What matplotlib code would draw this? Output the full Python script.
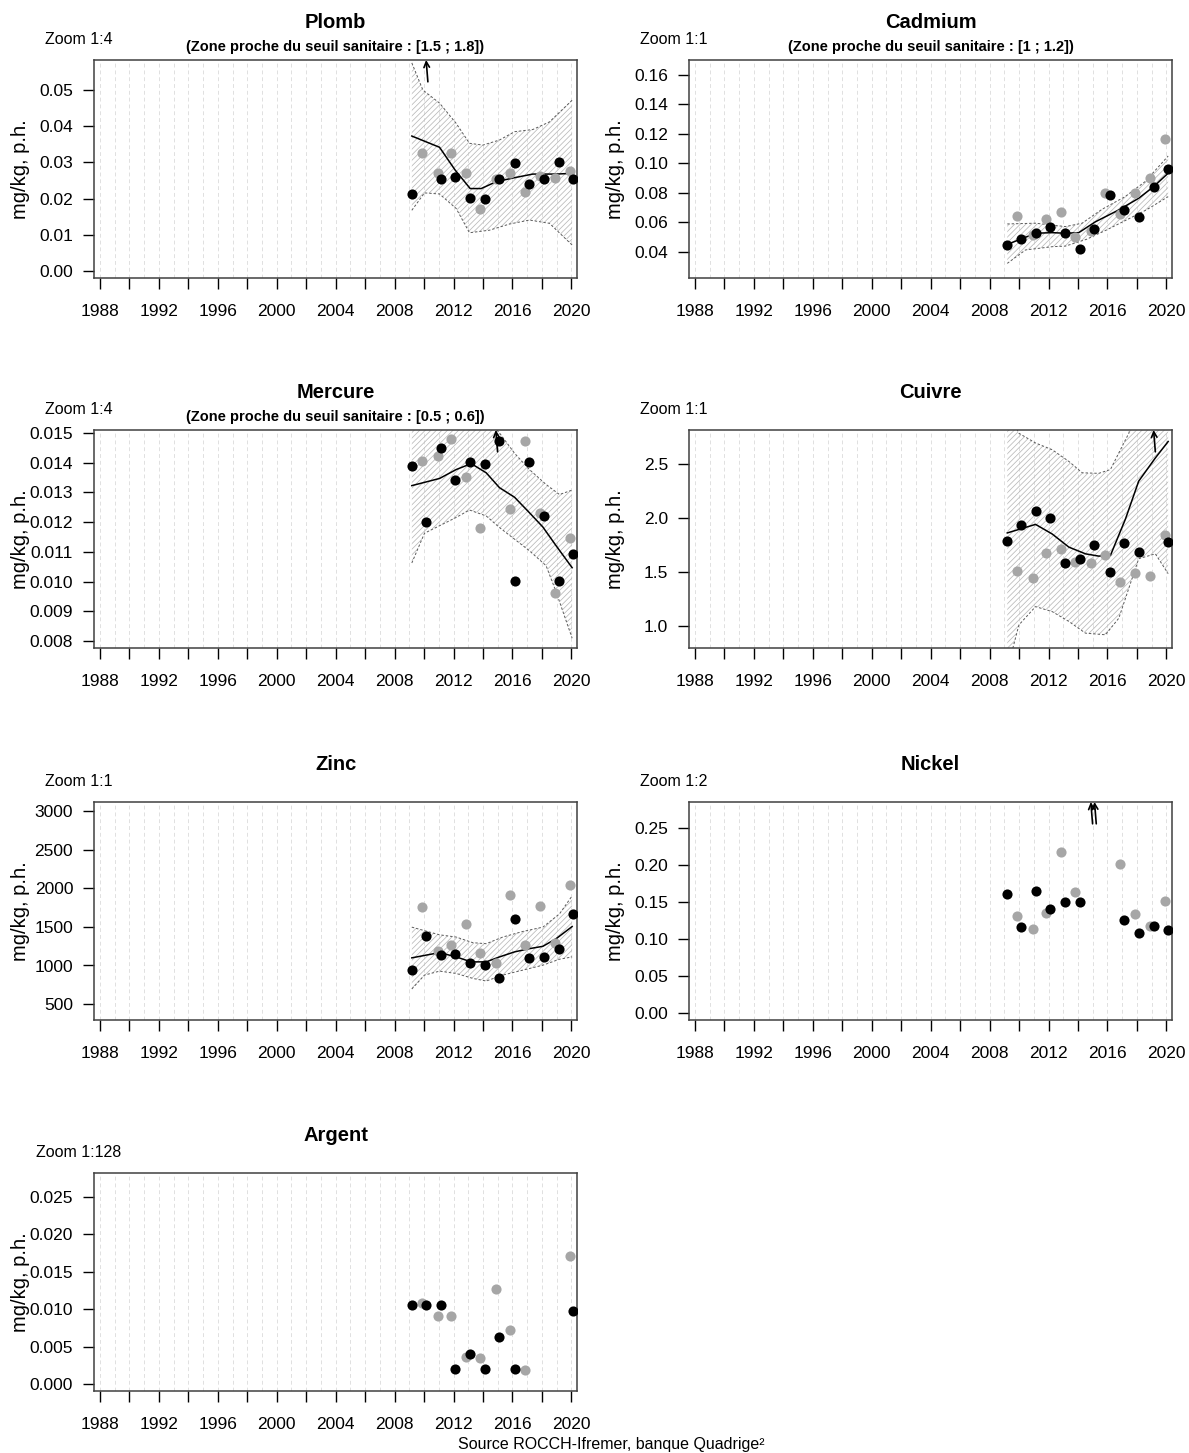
import numpy as np
import matplotlib
matplotlib.use("Agg")
import matplotlib.pyplot as plt

plt.rcParams['font.family'] = ['Liberation Sans', 'DejaVu Sans']
plt.rcParams['hatch.linewidth'] = 0.55

nan = np.nan

# sampling dates (black = winter campaign, grey = autumn campaign)
dates_b = [2009.15, 2010.14, 2011.12, 2012.13, 2013.14, 2014.15, 2015.12, 2016.15, 2017.12, 2018.12, 2019.13, 2020.13]
dates_g = [2009.89, 2010.92, 2011.85, 2012.87, 2013.82, 2014.87, 2015.86, 2016.86, 2017.86, 2018.86, 2019.88]

# Plomb
plomb_b = [0.0213, nan, 0.0254, 0.0260, 0.0202, 0.0199, 0.0254, 0.0298, 0.0240, 0.0254, 0.0301, 0.0254]
plomb_g = [0.0325, 0.0271, 0.0327, 0.0272, 0.0172, 0.0255, 0.0271, 0.0218, 0.0262, 0.0257, 0.0276]
plomb_off = [2010.14]
plomb_tx = [2009.17, 2011.05, 2012.11, 2013.13, 2013.88, 2014.9, 2016.14, 2017.38, 2018.96, 2020.05]
plomb_ty = [0.0373, 0.0342, 0.0279, 0.0228, 0.0228, 0.0247, 0.0258, 0.0268, 0.0268, 0.0270]
plomb_ux = [2009.17, 2009.92, 2011.05, 2012.18, 2013.08, 2013.99, 2015.12, 2016.14, 2017.38, 2018.51, 2020.05]
plomb_uy = [0.0575, 0.0500, 0.0464, 0.0408, 0.0353, 0.0348, 0.0362, 0.0385, 0.0391, 0.0412, 0.0472]
plomb_lx = [2009.17, 2010.03, 2011.05, 2012.18, 2013.08, 2014.44, 2015.8, 2017.15, 2018.51, 2020.05]
plomb_ly = [0.0168, 0.0216, 0.0213, 0.0173, 0.0106, 0.0113, 0.0130, 0.0141, 0.0132, 0.0072]

# Cadmium
cadmium_b = [0.0447, 0.0488, 0.0531, 0.0567, 0.0527, 0.0422, 0.0554, 0.0784, 0.0683, 0.0639, 0.0843, 0.0961]
cadmium_g = [0.0644, 0.0513, 0.0622, 0.0673, 0.0504, 0.0544, 0.0798, 0.0658, 0.0802, 0.0900, 0.1166]
cadmium_tx = [2009.2, 2010.2, 2011.12, 2012.25, 2013.15, 2014.05, 2015.19, 2016.77, 2018.12, 2019.14, 2020.12]
cadmium_ty = [0.0452, 0.0490, 0.0527, 0.0531, 0.0527, 0.0531, 0.0605, 0.0685, 0.0764, 0.0843, 0.0934]
cadmium_ux = [2009.2, 2011.12, 2013.15, 2014.28, 2015.63, 2017.2, 2018.56, 2020.12]
cadmium_uy = [0.0590, 0.0595, 0.0572, 0.0595, 0.0689, 0.0775, 0.0877, 0.1050]
cadmium_lx = [2009.2, 2010.44, 2012.25, 2013.15, 2014.58, 2015.93, 2017.29, 2018.64, 2020.12]
cadmium_ly = [0.0323, 0.0414, 0.0436, 0.0440, 0.0486, 0.0549, 0.0617, 0.0685, 0.0775]

# Mercure
mercure_b = [0.01388, 0.01199, 0.01450, 0.01343, 0.01402, 0.01396, 0.01473, 0.01002, 0.01402, 0.01221, 0.01001, 0.01093]
mercure_g = [0.01406, 0.01424, 0.01480, 0.01352, 0.01181, nan, 0.01243, 0.01473, 0.01230, 0.00962, 0.01148]
mercure_off = [2014.87]
mercure_tx = [2009.17, 2011.05, 2012.18, 2013.2, 2014.22, 2015.12, 2016.14, 2017.15, 2018.06, 2018.96, 2020.05]
mercure_ty = [0.01323, 0.01347, 0.01377, 0.01397, 0.01366, 0.01316, 0.01284, 0.01232, 0.01184, 0.01121, 0.01047]
mercure_ux = [2009.17, 2011.05, 2013.1, 2015.12, 2016.14, 2017.15, 2018.28, 2019.19, 2020.05]
mercure_uy = [0.01660, 0.01650, 0.01610, 0.01500, 0.01432, 0.01377, 0.01327, 0.01293, 0.01308]
mercure_lx = [2009.17, 2010.03, 2011.05, 2012.18, 2013.08, 2014.22, 2015.12, 2016.14, 2017.15, 2018.28, 2018.96, 2020.05]
mercure_ly = [0.01063, 0.01163, 0.01188, 0.01216, 0.01241, 0.01221, 0.01182, 0.01143, 0.01104, 0.01054, 0.00966, 0.00810]

# Cuivre
cuivre_b = [1.789, 1.933, 2.067, 2.000, 1.585, 1.615, 1.747, 1.503, 1.765, 1.683, nan, 1.780]
cuivre_g = [1.512, 1.445, 1.677, 1.713, 1.591, 1.585, 1.658, 1.405, 1.494, 1.463, 1.839]
cuivre_off = [2019.13]
cuivre_tx = [2009.2, 2011.12, 2012.25, 2013.38, 2014.51, 2015.41, 2016.2, 2017.22, 2018.12, 2019.25, 2020.12]
cuivre_ty = [1.860, 1.939, 1.850, 1.729, 1.667, 1.646, 1.652, 1.988, 2.338, 2.552, 2.704]
cuivre_ux = [2009.2, 2009.99, 2011.12, 2012.25, 2013.38, 2014.29, 2015.41, 2016.2, 2017.0, 2017.45, 2018.5, 2020.12]
cuivre_uy = [3.000, 2.780, 2.690, 2.628, 2.520, 2.415, 2.410, 2.445, 2.660, 2.780, 3.300, 3.600]
cuivre_lx = [2009.2, 2009.99, 2011.12, 2012.25, 2013.38, 2014.51, 2015.86, 2016.77, 2018.12, 2019.25, 2020.12]
cuivre_ly = [0.600, 1.011, 1.180, 1.134, 1.043, 0.935, 0.920, 1.073, 1.622, 1.667, 1.484]

# Zinc
zinc_b = [936, 1385, 1132, 1150, 1030, 1004, 833, 1603, 1099, 1115, 1209, 1663]
zinc_g = [1756, 1183, 1269, 1538, 1158, 1038, 1914, 1269, 1773, 1295, 2038]
zinc_tx = [2009.17, 2011.05, 2012.18, 2013.2, 2014.22, 2015.12, 2016.14, 2017.15, 2018.06, 2018.96, 2020.05]
zinc_ty = [1099, 1167, 1111, 1047, 1047, 1111, 1176, 1218, 1248, 1346, 1504]
zinc_ux = [2009.17, 2011.05, 2012.18, 2013.31, 2014.22, 2015.34, 2016.7, 2018.06, 2019.19, 2020.05]
zinc_uy = [1496, 1397, 1368, 1295, 1282, 1368, 1440, 1496, 1667, 1901]
zinc_lx = [2009.17, 2010.03, 2011.05, 2012.18, 2013.31, 2014.22, 2015.34, 2016.7, 2018.06, 2019.19, 2020.05]
zinc_ly = [696, 876, 927, 897, 833, 799, 876, 940, 1004, 1081, 1111]

# Nickel
nickel_b = [0.1614, 0.1167, 0.1649, 0.1408, 0.1493, 0.1502, nan, nan, 0.1253, 0.1087, 0.1172, 0.1123]
nickel_g = [0.1310, 0.1132, 0.1346, 0.2170, 0.1640, nan, nan, 0.2019, 0.1333, 0.1180, 0.1507]
nickel_off = [2014.87, 2015.12]

# Argent
argent_b = [0.01058, 0.01058, 0.01058, 0.00203, 0.00410, 0.00203, 0.00635, 0.00203, nan, nan, nan, 0.00979]
argent_g = [0.01085, 0.00913, 0.00913, 0.00366, 0.00344, 0.01266, 0.00723, 0.00190, nan, nan, 0.01710]

years_ticks = list(range(1988, 2021, 2))

W, H = 1189, 1453
fig = plt.figure(figsize=(W / 100, H / 100), dpi=100)

col_left = [94, 689]
row_top = [60, 430, 802, 1173]
box_w, box_h = 483, 218


def make_ax(row, col):
    l = col_left[col] / W
    b = 1 - (row_top[row] + box_h) / H
    return fig.add_axes([l, b, box_w / W, box_h / H])


def panel(ax, title, zoom, subtitle, yb, yg, ylim, yticks, fmt,
          trend=None, upper=None, lower=None, off=()):
    ax.set_xlim(1987.6, 2020.38)
    ax.set_ylim(*ylim)
    for yr in range(1988, 2021):
        ax.axvline(yr, color='#e0e0e0', lw=0.7, ls=(0, (4, 3)), zorder=0)
    if upper is not None:
        xs = list(upper[0]) + list(lower[0])[::-1]
        ys = list(upper[1]) + list(lower[1])[::-1]
        ax.fill(xs, ys, facecolor='none', edgecolor='#b9b9b9', hatch='//////',
                linewidth=0, zorder=1)
        ax.plot(upper[0], upper[1], color='#5a5a5a', lw=0.7, ls=(0, (2.5, 2)), zorder=2)
        ax.plot(lower[0], lower[1], color='#5a5a5a', lw=0.7, ls=(0, (2.5, 2)), zorder=2)
    if trend is not None:
        ax.plot(trend[0], trend[1], color='black', lw=1.1, zorder=3)
    ax.plot(dates_g, yg, 'o', color='#a6a6a6', ms=7.3, mec='none', zorder=4)
    ax.plot(dates_b, yb, 'o', color='black', ms=7.3, mec='none', zorder=5)
    for d in off:
        ax.annotate('', xy=(d, 1.0), xycoords=('data', 'axes fraction'),
                    xytext=(d + 0.12, 0.9), textcoords=('data', 'axes fraction'),
                    arrowprops=dict(arrowstyle='->', color='black', lw=1.2,
                                    shrinkA=0, shrinkB=0), zorder=6)
    ax.set_xticks(years_ticks)
    ax.set_xticklabels([str(y) if y % 4 == 0 else '' for y in years_ticks])
    ax.set_yticks(yticks)
    ax.set_yticklabels([fmt.format(v) for v in yticks])
    ax.tick_params(axis='x', length=8, width=1, pad=11, labelsize=12.5)
    ax.tick_params(axis='y', length=8, width=1, pad=7, labelsize=12.5)
    for s in ax.spines.values():
        s.set_color('#404040')
        s.set_linewidth(1.1)
    ax.set_ylabel('mg/kg, p.h.', fontsize=14.5)
    ax.yaxis.set_label_coords(-0.132, 0.5)
    ax.text(0.5, 1.174, title, transform=ax.transAxes, ha='center', va='center',
            fontsize=14.5, fontweight='bold')
    if subtitle:
        ax.text(0.5, 1.06, subtitle, transform=ax.transAxes, ha='center', va='center',
                fontsize=10.5, fontweight='bold')
    ax.text(-0.031, 1.095, zoom, transform=ax.transAxes, ha='center', va='center',
            fontsize=11.5)


ax = make_ax(0, 0)
panel(ax, 'Plomb', 'Zoom 1:4', '(Zone proche du seuil sanitaire : [1.5 ; 1.8])',
      plomb_b, plomb_g, (-0.0019, 0.0583), [0, 0.01, 0.02, 0.03, 0.04, 0.05], '{:.2f}',
      (plomb_tx, plomb_ty), (plomb_ux, plomb_uy), (plomb_lx, plomb_ly), plomb_off)

ax = make_ax(0, 1)
panel(ax, 'Cadmium', 'Zoom 1:1', '(Zone proche du seuil sanitaire : [1 ; 1.2])',
      cadmium_b, cadmium_g, (0.0224, 0.170), [0.04, 0.06, 0.08, 0.10, 0.12, 0.14, 0.16], '{:.2f}',
      (cadmium_tx, cadmium_ty), (cadmium_ux, cadmium_uy), (cadmium_lx, cadmium_ly))

ax = make_ax(1, 0)
panel(ax, 'Mercure', 'Zoom 1:4', '(Zone proche du seuil sanitaire : [0.5 ; 0.6])',
      mercure_b, mercure_g, (0.00777, 0.0151),
      [0.008, 0.009, 0.010, 0.011, 0.012, 0.013, 0.014, 0.015], '{:.3f}',
      (mercure_tx, mercure_ty), (mercure_ux, mercure_uy), (mercure_lx, mercure_ly), mercure_off)

ax = make_ax(1, 1)
panel(ax, 'Cuivre', 'Zoom 1:1', None,
      cuivre_b, cuivre_g, (0.798, 2.81), [1.0, 1.5, 2.0, 2.5], '{:.1f}',
      (cuivre_tx, cuivre_ty), (cuivre_ux, cuivre_uy), (cuivre_lx, cuivre_ly), cuivre_off)

ax = make_ax(2, 0)
panel(ax, 'Zinc', 'Zoom 1:1', None,
      zinc_b, zinc_g, (295, 3115), [500, 1000, 1500, 2000, 2500, 3000], '{:.0f}',
      (zinc_tx, zinc_ty), (zinc_ux, zinc_uy), (zinc_lx, zinc_ly))

ax = make_ax(2, 1)
panel(ax, 'Nickel', 'Zoom 1:2', None,
      nickel_b, nickel_g, (-0.0094, 0.285), [0, 0.05, 0.10, 0.15, 0.20, 0.25], '{:.2f}',
      off=nickel_off)

ax = make_ax(3, 0)
panel(ax, 'Argent', 'Zoom 1:128', None,
      argent_b, argent_g, (-0.0009, 0.0282), [0, 0.005, 0.010, 0.015, 0.020, 0.025], '{:.3f}')

fig.text(765 / W, 1 - 1445 / H, 'Source ROCCH-Ifremer, banque Quadrige²',
         ha='right', va='center', fontsize=11.5)

fig.savefig('out.png', dpi=100)
